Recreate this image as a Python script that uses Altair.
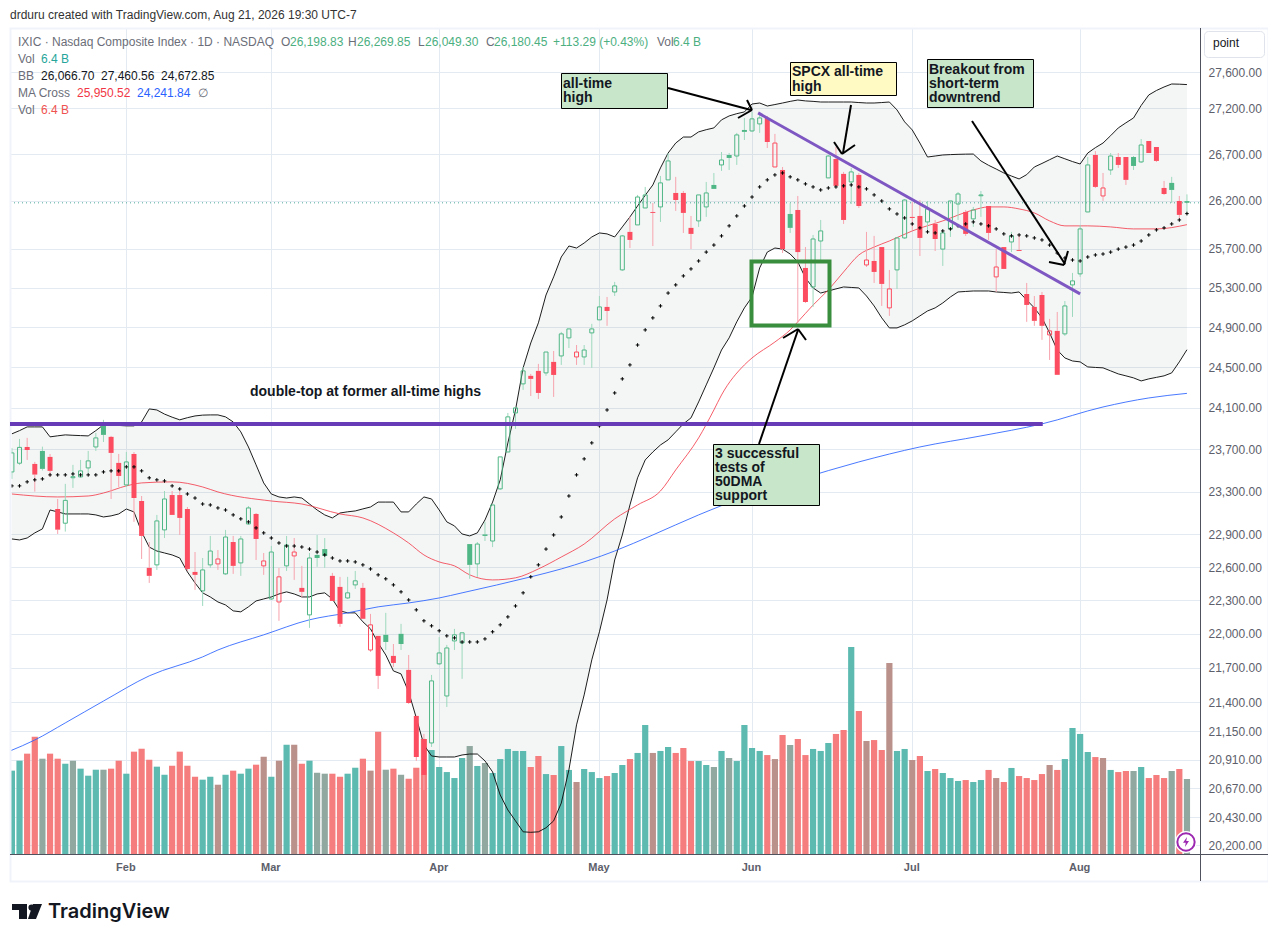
import altair as alt
import pandas as pd

# ---- daily series (index 0 = first visible session) ----
opens = [23485,23568,23723,23561,23685,23628,23136,23004,23430,23438,
23523,23723,23926,23820,23571,23362,23656,23211,22593,22620,
22942,23267,23267,23136,22556,22384,22620,22629,22538,22830,
22638,22997,23090,22611,22311,22284,22611,22702,22411,22168,
22711,22765,22520,22420,22320,22438,22411,21856,21981,21990,
21804,21999,21681,21282,21085,21051,21734,21454,21936,21918,
22811,22629,22900,22839,23325,23675,24051,24335,24414,24463,
24443,24552,24611,24791,24601,24601,24841,24972,25103,25255,
25481,25875,25948,26126,26084,26137,26424,26285,26285,25917,
25990,26137,26370,26584,26691,26680,26962,26951,27028,27093,
26562,26530,26063,26105,25501,25306,25780,26445,26648,26488,
26402,26477,25532,25573,25717,25093,25481,25812,26032,26042,
25979,25958,25696,25906,26168,26084,26011,26255,26147,25409,
25717,25770,25686,25234,25103,25224,24821,24861,24831,25327,
25440,26084,26691,26253,26530,26669,26669,26669,26616,26842,
26777,26338,26392,26200,26198.83]
closes = [23666,23719,23694,23460,23514,23495,22944,23217,23440,23495,
23590,23810,23839,23666,23447,23580,23239,22886,22520,23025,
23230,23081,23053,22583,22529,22574,22747,22674,22876,22611,
22858,23146,22858,22656,22738,22511,22802,22738,22375,22683,
22683,22702,22293,22088,22366,22475,22133,22079,21629,21927,
21742,21909,21393,20932,20781,21585,21830,21874,21990,22008,
22620,22811,22886,23174,23628,24013,24100,24463,24384,24246,
24650,24423,24831,24881,24650,24670,24881,25103,25062,25317,
25833,25791,26242,26264,26074,26392,26627,26210,26074,25854,
26264,26285,26328,26637,26659,26908,26941,27083,27093,26831,
26820,25696,25917,25665,25153,25801,25885,26680,26360,26000,
26509,26147,25583,25460,25337,25286,25812,26210,26021,25812,
26116,25801,25864,26200,26274,25854,26105,26264,25864,25511,
25491,25833,25676,25123,24962,24912,24861,24424,25113,25368,
25906,26584,26349,26338,26680,26584,26424,26573,26799,26712,
26627,26274,26317,26053,26180.45]
highs = [23713,23800,23810,23580,23726,23656,23230,23372,23552,23599,
23685,23858,23984,23829,23656,23675,23675,23258,22830,23081,
23305,23305,23305,23155,22738,22683,22886,22756,22942,22886,
22886,23164,23099,22729,22793,22593,22886,22867,22611,22729,
22895,22867,22547,22511,22511,22565,22456,22177,21981,22186,
21909,22088,21812,21282,21128,21637,21970,21901,22043,22008,
22811,22830,23016,23174,23628,24051,24109,24502,24433,24532,
24650,24660,24851,24881,24720,24720,24932,25214,25204,25358,
25843,26032,26264,26349,26179,26466,26712,26456,26306,26042,
26264,26402,26498,26723,26712,26930,27093,27159,27126,27115,
26919,26562,26179,26253,25717,25843,26000,26691,26777,26509,
26552,26498,25875,25833,25717,25481,25822,26221,26189,26210,
26200,26000,25885,26200,26295,26105,26137,26306,26147,25696,
25717,25875,25843,25347,25214,25255,24982,25052,25163,25450,
25948,26669,26733,26498,26712,26712,26669,26680,26864,26842,
26777,26413,26456,26253,26269.85]
lows = [23419,23552,23599,23299,23498,23441,22904,22926,23334,23429,
23476,23685,23771,23230,23343,23343,23016,22674,22456,22574,
22867,23081,22895,22565,22393,22248,22593,22574,22529,22538,
22520,22988,22665,22529,22302,22115,22565,22483,22329,22052,
22602,22593,22293,22061,22311,22402,22133,21839,21515,21856,
21707,21856,21385,20899,20655,21017,21725,21359,21856,21603,
22493,22511,22839,22783,23315,23675,23897,24276,24216,24187,
24414,24207,24522,24690,24522,24522,24493,24972,24912,25214,
25471,25707,25948,26126,25728,25979,26424,26095,25864,25696,
25927,26032,26328,26520,26530,26584,26853,26941,26930,26766,
26562,25655,25864,24942,25143,25103,25583,26445,26360,25958,
26168,26126,25511,25347,25113,25012,25286,25801,25896,25624,
25896,25676,25522,25822,26000,25833,25927,26032,25791,25255,
25491,25665,25676,24952,24912,24771,24571,24424,24811,25002,
25409,26084,26338,26200,26477,26552,26370,26530,26605,26712,
26616,26264,26179,26021,26049.30]
candle_colors = ("ggrrgrrggg" "gggrrgrrrg" "grrrrggrgr" "ggrrgrgrrg" "ggrrggrrrg"
                 "rgrrrggggg" "ggggggggrr" "grggrgggrg" "grggrggrrr" "gggggggggr"
                 "rrgrrgggrr" "grrrrrggrr" "grgggrggrr" "rgrrrrrrgg" "ggrrgrrggr" "rrgrg")
volumes = [7.11,7.96,8.56,10.01,8.13,8.56,8.13,7.70,7.96,7.28,
6.68,7.19,7.19,7.28,7.96,6.85,8.73,8.98,8.04,7.45,
6.76,7.53,8.73,7.53,6.59,6.34,6.59,5.91,6.76,7.11,
6.85,7.28,7.62,8.30,6.59,7.96,9.32,9.32,7.70,7.96,
6.93,6.85,6.85,6.59,6.85,7.36,8.13,7.11,10.43,7.19,
7.28,6.76,6.42,7.36,9.81,8.87,7.42,6.99,6.48,8.19,
9.21,7.51,7.76,6.91,8.10,8.96,8.79,8.79,7.42,8.36,
6.82,6.74,9.21,7.17,6.14,7.25,6.99,6.48,6.65,6.91,
7.59,8.10,8.62,11.00,8.62,8.79,9.13,8.62,9.04,7.93,
7.93,7.59,7.42,8.79,8.19,7.93,11.00,9.04,8.79,8.44,
8.10,10.15,9.30,9.81,8.44,8.96,8.79,9.47,10.24,10.58,
17.66,12.20,9.64,9.72,8.87,16.29,8.79,8.96,8.02,8.36,
7.08,7.25,6.91,6.48,6.23,6.31,6.14,6.31,7.17,6.48,
6.14,7.34,6.65,6.48,6.31,6.82,7.59,7.17,8.10,10.75,
10.24,8.70,8.27,8.19,7.17,6.99,7.08,7.08,7.42,6.48,
6.74,6.48,7.08,7.25,6.40]
volume_kinds = ("ttrrgrrtgt" "ttgrrtrrrt" "trrrrttbtr" "ttrbtbtbrt" "ggrrttrbrg"
                "rgrrrttttt" "gtgtttttrr" "trttbtttrt" "trttbttrrr" "ttgtgttttr"
                "brgrrtttrr" "trbrrbttbr" "trtttrttrb" "rtrrrrbrtt" "ttrbtrrgtr" "rrgrg")
bb_basis = [23353,23353,23391,23410,23419,23457,23457,23457,23466,23457,
23457,23457,23485,23495,23495,23533,23533,23495,23429,23410,
23400,23353,23324,23277,23239,23183,23174,23146,23127,23081,
23044,23016,22960,22914,22867,22821,22793,22793,22784,22765,
22738,22711,22683,22656,22656,22647,22620,22583,22529,22493,
22438,22375,22302,22213,22115,22070,22026,21981,21963,21927,
21927,21927,21954,22017,22079,22150,22248,22366,22511,22620,
22765,22895,23062,23258,23457,23609,23762,23926,24080,24246,
24384,24522,24720,24871,24992,25113,25244,25327,25419,25491,
25573,25665,25738,25833,25938,26042,26147,26242,26349,26424,
26477,26498,26456,26424,26381,26349,26317,26338,26349,26360,
26370,26349,26328,26264,26200,26116,26063,26021,25958,25917,
25875,25864,25885,25906,25938,25958,25979,25958,25938,25906,
25854,25833,25843,25833,25812,25791,25738,25655,25604,25583,
25573,25614,25635,25645,25665,25696,25717,25738,25780,25843,
25896,25917,25958,26000,26066.70]
bb_upper = [23849,23880,23916,23916,23916,23820,23830,23839,23835,23832,
23829,23880,23936,23936,23930,23926,23926,23964,24090,24080,
24040,24010,23984,24005,24022,24030,24032,24032,24013,23964,
23868,23723,23552,23381,23277,23249,23239,23249,23239,23183,
23127,23081,23053,23099,23110,23118,23137,23155,23201,23201,
23201,23109,23109,23183,23249,23230,23127,23016,22979,22904,
22886,22914,23034,23201,23410,23762,24080,24493,24740,24942,
25224,25409,25614,25728,25707,25759,25822,25864,25854,25822,
25927,26032,26147,26260,26370,26552,26712,26820,26885,26885,
26941,26965,26984,27072,27115,27140,27159,27246,27257,27224,
27240,27257,27275,27290,27280,27275,27268,27268,27268,27268,
27268,27262,27257,27257,27262,27268,27181,27050,26962,26820,
26669,26680,26691,26695,26698,26700,26701,26627,26580,26540,
26498,26465,26434,26480,26562,26600,26640,26680,26650,26620,
26594,26712,26770,26820,26900,26984,27040,27093,27230,27346,
27395,27434,27467,27465,27460.56]
bb_lower = [22858,22849,22867,22914,22951,23127,23109,23090,23090,23090,
23090,23081,23062,23072,23090,23136,23109,22923,22783,22747,
22729,22711,22683,22556,22456,22366,22329,22284,22257,22204,
22195,22240,22293,22311,22329,22356,22375,22356,22329,22329,
22356,22366,22311,22204,22186,22186,22106,22043,21918,21812,
21672,21646,21489,21265,21034,20941,20932,20932,20932,20949,
20957,20957,20899,20806,20613,20489,20399,20309,20305,20309,
20342,20399,20546,20823,21205,21463,21769,22017,22302,22665,
22895,23174,23429,23599,23675,23742,23791,23868,23945,24003,
24158,24325,24493,24670,24791,24952,25093,25204,25501,25665,
25707,25696,25645,25563,25399,25296,25244,25265,25286,25306,
25301,25296,25214,25113,24992,24891,24891,24922,24962,25012,
25062,25093,25143,25204,25255,25260,25265,25265,25265,25255,
25250,25244,25255,25173,25093,24992,24841,24670,24591,24561,
24552,24502,24497,24493,24463,24433,24414,24394,24364,24384,
24399,24414,24443,24552,24672.85]
ma50_index = [0,6,10,12,15,17,21,25,27,34,38,43,46,50,52,54,56,58,60,63,66,69,72,75,79,82,85,87,90,92,93,96,97,100,102,103,105,107,109,111,113,115,118,122,126,128,130,132,134,136,138,141,144,147,150,154]
ma50 = [23277,23249,23258,23286,23353,23381,23391,23343,23296,23211,23183,23090,23053,22914,22821,22711,22647,22611,22529,22483,22502,22583,22692,22811,23044,23174,23305,23504,23810,24080,24226,24522,24591,24750,24871,24952,25122,25276,25460,25635,25717,25780,25885,25990,26105,26137,26137,26116,26074,25990,25938,25938,25927,25906,25906,25950.52]
ma200_index = [-0.25,3,7,12,18,25,27,33,39,44,48,52,56,59,68,72,79,84,90,96,103,111,119,127,135,143,149,154]
ma200 = [20983,21076,21222,21410,21629,21795,21856,21990,22124,22186,22240,22275,22320,22366,22511,22583,22747,22895,23081,23249,23410,23580,23723,23829,23945,24109,24197,24241.84]

price_ticks = [27600,27200,26700,26200,25700,25300,24900,24500,24100,23700,23300,22900,22600,22300,22000,21700,21400,21150,20910,20670,20430,20200]
month_ticks = [15,34,56,77,97,118,140]
month_labels = ["Feb","Mar","Apr","May","Jun","Jul","Aug"]
last_close = 26180.45
double_top_level = 23945
double_top_index = [-0.25,135.1]
trend_index = [97.8,140.0]
trend_price = [27148,25235]

# ---- drawing styles and chart furniture (page pixels) ----
GREEN, RED = "#4fb685", "#fb4d5f"
GREEN_W, RED_W = "#9dd9bd", "#f7a3ad"
VOL = {"t":"#5cbab1","r":"#f57d7d","b":"#bb918b","g":"#90a8a0"}
GRAY, FONT = "#5d606b", "Liberation Sans"
PW, PH = 1190, 826
OX, OY = 10, 28

X = alt.Scale(domain=[-0.249,155.71], nice=False, zero=False, padding=0)
Y = alt.Scale(type="log", domain=[20128,28095], nice=False, padding=0)
YV = alt.Scale(domain=[0,70.46], nice=False, zero=True, padding=0)
xq = lambda f="i": alt.X(f"{f}:Q", scale=X, axis=None)
yq = lambda f: alt.Y(f"{f}:Q", scale=Y, axis=None)
px = lambda f: alt.X(f"{f}:Q", scale=None, axis=None)
py = lambda f: alt.Y(f"{f}:Q", scale=None, axis=None)

n = len(opens)
df = pd.DataFrame({"i":range(n),"o":opens,"h":highs,"l":lows,"c":closes,
    "col":list(candle_colors),"v":volumes,"vk":[VOL[k] for k in volume_kinds],
    "basis":bb_basis,"up":bb_upper,"lo":bb_lower})
df["top"] = df[["o","c"]].max(axis=1)
df["bot"] = df[["o","c"]].min(axis=1)
df["body"] = df["col"].map({"g":GREEN,"r":RED})
df["wick"] = df["col"].map({"g":GREEN_W,"r":RED_W})
hollow = df[df.c > df.o]
solid = df[df.c <= df.o]

label_expr = "{" + ",".join(f"'{t}':'{m}'" for t,m in zip(month_ticks,month_labels)) + "}[''+datum.value]"

base = alt.Chart(df).mark_area(fill="#2f4f4f", opacity=0.05, clip=True).encode(
    x=alt.X("i:Q", scale=X, axis=alt.Axis(values=month_ticks, labelExpr=label_expr, title=None, domain=False,
        ticks=False, labelPadding=7, labelOffset=-1, labelFont=FONT, labelFontSize=11, labelFontWeight="bold", labelColor=GRAY,
        grid=True, gridColor="#e4eaf1", gridWidth=1, labelOverlap=False, labelFlush=False)),
    y=alt.Y("up:Q", scale=Y, axis=alt.Axis(values=price_ticks, format=",.2f", orient="right", title=None, domain=False,
        ticks=False, labelPadding=8, labelFont=FONT, labelFontSize=12, labelColor=GRAY,
        grid=True, gridColor="#e4eaf1", gridWidth=1, labelOverlap=False, labelFlush=False)),
    y2="lo:Q")

vol = alt.Chart(df).mark_bar(size=6.2, clip=True).encode(
    x=xq(), y=alt.Y("v:Q", scale=YV, axis=None), fill=alt.Fill("vk:N", scale=None))

def line(data, f, color, width, op=1.0, xf="i", interp="linear"):
    return alt.Chart(data).mark_line(color=color, strokeWidth=width, opacity=op, clip=True, interpolate=interp).encode(
        x=xq(xf), y=yq(f))

ma50_df = pd.DataFrame({"i":ma50_index,"m":ma50})
ma200_df = pd.DataFrame({"i":ma200_index,"m":ma200})
trend_df = pd.DataFrame({"i":trend_index,"m":trend_price})
dbl_df = pd.DataFrame({"i":double_top_index,"m":[double_top_level]*2})
last_df = pd.DataFrame({"i":[-0.249,155.71],"m":[last_close]*2})

last_line = alt.Chart(last_df).mark_line(color="#4fa89a", strokeWidth=1, strokeDash=[1,3]).encode(x=xq(), y=yq("m"))

wick_hi = alt.Chart(df).mark_rule(strokeWidth=1).encode(x=xq(), y=yq("h"), y2="top:Q", stroke=alt.Stroke("wick:N", scale=None))
wick_lo = alt.Chart(df).mark_rule(strokeWidth=1).encode(x=xq(), y=yq("bot"), y2="l:Q", stroke=alt.Stroke("wick:N", scale=None))
body_solid = alt.Chart(solid).mark_bar(size=5, clip=True).encode(x=xq(), y=yq("top"), y2="bot:Q", fill=alt.Fill("body:N", scale=None))
body_hollow = alt.Chart(hollow).mark_bar(size=4, fillOpacity=0, strokeWidth=1, clip=True).encode(
    x=xq(), y=yq("top"), y2="bot:Q", stroke=alt.Stroke("body:N", scale=None))
basis_pts = alt.Chart(df).mark_point(shape="M-1,0H1M0,-1V1", filled=False, stroke="#000000", strokeWidth=1, size=13, opacity=1, clip=True).encode(
    x=xq(), y=yq("basis"))

# annotation rectangles: x1,y1,x2,y2 in page pixels
rects = pd.DataFrame([
    (10,28,1268,881,"transparent","#f0f3fa",2),
    (561,73,667,108,"#c8e6c9","#000000",1),
    (790,62,896,95,"#fff9c4","#000000",1),
    (927,59,1033,107,"#c8e6c9","#000000",1),
    (713,444,819,505,"#c8e6c9","#000000",1),
    (751,261,829,325,"transparent","#388e3c",4),
], columns=["x","y","x2","y2","fill","stroke","sw"])
for c,o in (("x",OX),("x2",OX),("y",OY),("y2",OY)):
    rects[c] = rects[c]-o+0.5
rect_layer = alt.Chart(rects).mark_rect().encode(
    x=px("x"), x2="x2:Q", y=py("y"), y2="y2:Q",
    fill=alt.Fill("fill:N", scale=None), stroke=alt.Stroke("stroke:N", scale=None),
    strokeWidth=alt.StrokeWidth("sw:Q", scale=None))
point_box_df = pd.DataFrame({"x":[1204.5-OX],"x2":[1264.5-OX],"y":[31.5-OY],"y2":[57.5-OY]})
point_box = alt.Chart(point_box_df).mark_rect(cornerRadius=4, fill="#ffffff", stroke="#e0e3eb", strokeWidth=1).encode(
    x=px("x"), x2="x2:Q", y=py("y"), y2="y2:Q")

# arrows, axis lines and logo strokes
segs = pd.DataFrame([
    (668,88,751,110,2,"#000000"),(747,100,752,110,2,"#000000"),(738,118,752,110,2,"#000000"),
    (851,105,843,153,2,"#000000"),(834,142,842,154,2,"#000000"),(855,145,842,154,2,"#000000"),
    (972,121,1065,264,2,"#000000"),(1049,262,1064,265,2,"#000000"),(1068,251,1064,265,2,"#000000"),
    (759,444,798,330,2,"#000000"),(783,338,798,329,2,"#000000"),(806,340,798,329,2,"#000000"),
    (1200.5,28,1200.5,881,1,"#50535e"),(10,854.5,1268,854.5,1,"#50535e"),
], columns=["x","y","x2","y2","sw","col"])
for c,o in (("x",OX),("x2",OX),("y",OY),("y2",OY)):
    segs[c] = segs[c]-o
seg_layer = alt.Chart(segs).mark_rule().encode(
    x=px("x"), x2="x2:Q", y=py("y"), y2="y2:Q",
    stroke=alt.Stroke("col:N", scale=None), strokeWidth=alt.StrokeWidth("sw:Q", scale=None))

def texts(rows, size, weight="normal", font=FONT):
    d = pd.DataFrame(rows, columns=["x","y","t","col"])
    d["x"] = d["x"]-OX; d["y"] = d["y"]-OY
    return alt.Chart(d).mark_text(align="left", baseline="middle", fontSize=size, fontWeight=weight, font=font).encode(
        x=px("x"), y=py("y"), text="t:N", fill=alt.Fill("col:N", scale=None))

TG, TB, K = "#4caf7f", "#6b6e78", "#131722"
legend = texts([
    (10,15,"drduru created with TradingView.com, Aug 21, 2026 19:30 UTC-7","#333333"),
    (18,42,"IXIC · Nasdaq Composite Index · 1D · NASDAQ",TB),
    (281,42,"O",TB),(290,42,"26,198.83",TG),(348,42,"H",TB),(357,42,"26,269.85",TG),
    (418,42,"L",TB),(425,42,"26,049.30",TG),(486,42,"C",TB),(494,42,"26,180.45",TG),
    (553,42,"+113.29 (+0.43%)",TG),(657,42,"Vol",TB),(673,42,"6.4 B",TG),
    (18,59,"Vol",TB),(41,59,"6.4 B","#26a69a"),
    (18,76,"BB",TB),(41,76,"26,066.70","#131722"),(101,76,"27,460.56","#131722"),(161,76,"24,672.85","#131722"),
    (18,93,"MA Cross",TB),(77,93,"25,950.52","#f23645"),(137,93,"24,241.84","#2962ff"),(198,93,"∅",TB),
    (18,110,"Vol",TB),(41,110,"6.4 B","#ef5350"),
    (1213,43,"point","#131722"),
], 12)
notes = texts([
    (563,84,"all-time",K),(563,98,"high",K),
    (792,72,"SPCX all-time",K),(792,87,"high",K),
    (929,70,"Breakout from",K),(929,84,"short-term",K),(929,98,"downtrend",K),
    (715,454,"3 successful",K),(715,468,"tests of",K),(715,482,"50DMA",K),(715,496,"support",K),
    (250,392,"double-top at former all-time highs",K),
], 14, "bold")
brand = texts([(48,912,"TradingView","#131722")], 20, 600, "Inter")

# logo and lightning badge
logo_rect = pd.DataFrame([(2,876,17,882),(9,876,17,891)], columns=["x","y","x2","y2"])
logo_r = alt.Chart(logo_rect).mark_rect(color="#131722").encode(x=px("x"),x2="x2:Q",y=py("y"),y2="y2:Q")
one = lambda x,y: pd.DataFrame({"x":[x-OX],"y":[y-OY]})
logo_dot = alt.Chart(one(31.5,907.5)).mark_circle(size=38, color="#131722", opacity=1).encode(x=px("x"),y=py("y"))
logo_slash = alt.Chart(one(36,911.5)).mark_point(shape="M-0.4,-1L0.8,-1L0,1L-1.07,1Z", size=225, filled=True, color="#131722", opacity=1).encode(x=px("x"),y=py("y"))
badge_bg = alt.Chart(one(1186,842)).mark_circle(size=480, color="#ffffff", opacity=1).encode(x=px("x"),y=py("y"))
badge = alt.Chart(one(1186,842)).mark_point(shape="circle", size=300, filled=False, stroke="#9c27b0", strokeWidth=2, opacity=1).encode(x=px("x"),y=py("y"))
bolt = alt.Chart(one(1186,842)).mark_point(shape="M0.2,-1L-0.6,0.15L-0.05,0.15L-0.2,1L0.6,-0.2L0.05,-0.2Z", size=100, filled=True, color="#9c27b0", opacity=1).encode(x=px("x"),y=py("y"))

chart = alt.layer(
    base, vol, last_line,
    line(df,"up","#111111",1,0.95), line(df,"lo","#111111",1,0.95),
    line(ma200_df,"m","#2962ff",1,0.85,interp="monotone"), line(ma50_df,"m","#f23645",1,0.8,interp="monotone"),
    wick_hi, wick_lo, body_solid, body_hollow, basis_pts,
    rect_layer, point_box, line(dbl_df,"m","#673ab7",4), line(trend_df,"m","#7e57c2",3),
    seg_layer, legend, notes, brand, logo_r, logo_dot, logo_slash, badge_bg, badge, bolt,
).resolve_scale(x="independent", y="independent").properties(
    width=PW, height=PH,
    padding={"left":2,"top":20,"right":68,"bottom":80},
    autosize=alt.AutoSizeParams(type="none"),
    background="#ffffff",
).configure_view(strokeWidth=0)

chart.save("out.html", embed_options={"renderer": "svg", "actions": False})
